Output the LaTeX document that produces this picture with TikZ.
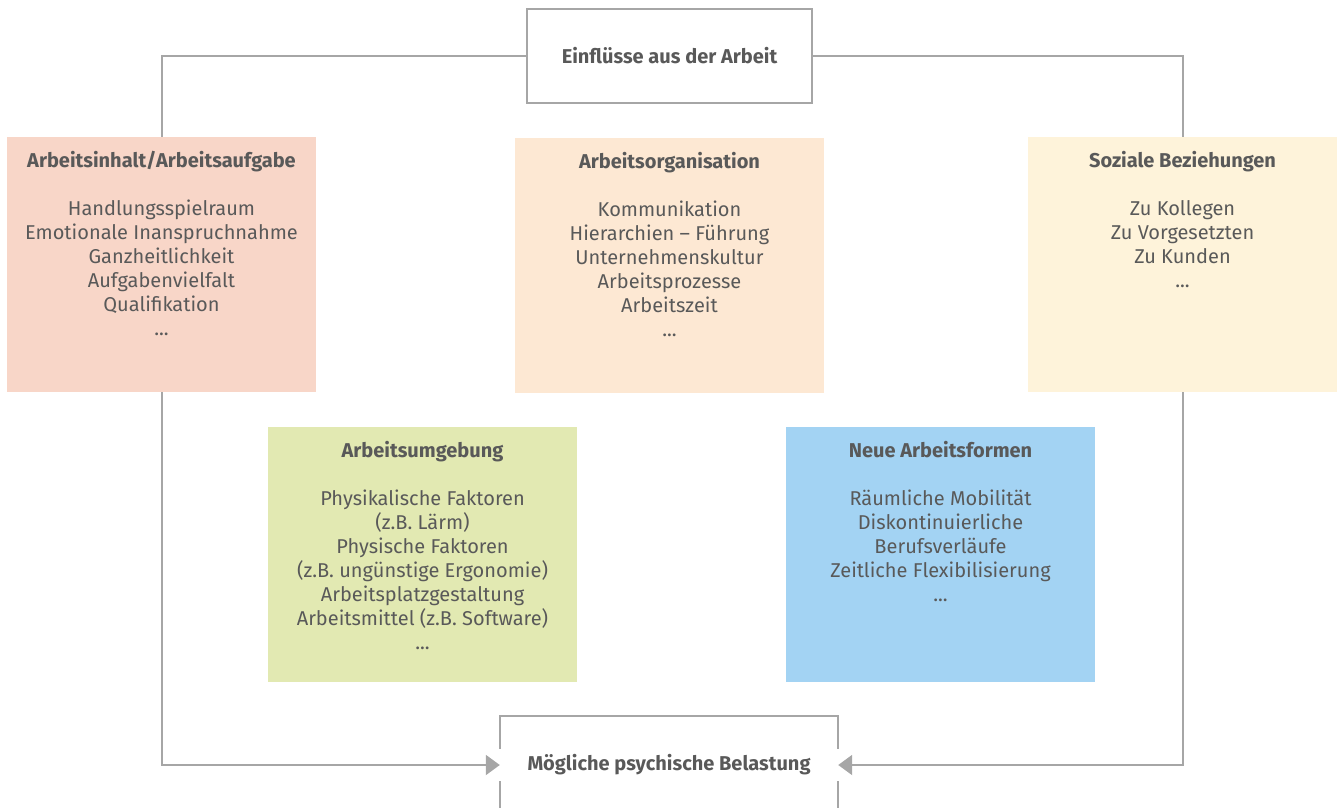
\documentclass[tikz,border=0pt]{standalone}
\usepackage{fontspec}
\setmainfont{Fira Sans}
\usetikzlibrary{arrows.meta,backgrounds}
\definecolor{txt}{HTML}{595959}
\definecolor{ln}{HTML}{A6A6A6}
\definecolor{cred}{HTML}{F8D6C8}
\definecolor{cora}{HTML}{FDE8D3}
\definecolor{cyel}{HTML}{FEF3DA}
\definecolor{cgre}{HTML}{E2E9B2}
\definecolor{cblu}{HTML}{A3D3F3}
\tikzset{
  catbox/.style={minimum width=309pt,minimum height=255pt,inner sep=0pt,draw=none},
  cattext/.style={anchor=north,align=center,inner sep=0pt,text=txt,font=\fontsize{20}{24}\selectfont},
  conn/.style={draw=ln,line width=2pt},
  tip/.style={-{Triangle[length=14pt,width=20pt]}},
  headtext/.style={text=txt,font=\fontsize{20}{24}\selectfont\bfseries}
}
\begin{document}
\begin{tikzpicture}[x=1pt,y=-1pt]
\useasboundingbox (0,0) rectangle (1338,808);
% boxes
\node[catbox,fill=cred] (a) at (161.5,264.5) {};
\node[catbox,fill=cora] (b) at (669.5,265.5) {};
\node[catbox,fill=cyel] (c) at (1182.5,264.5) {};
\node[catbox,fill=cgre] (d) at (422.5,554.5) {};
\node[catbox,fill=cblu] (e) at (940.5,554.5) {};
% top and bottom nodes
\node[conn,minimum width=285pt,minimum height=94pt,inner sep=0pt,fill=white,headtext] (top) at (669.5,56) {Einflüsse aus der Arbeit};
\node[minimum width=338pt,minimum height=32pt,inner sep=0pt,headtext] (bel) at (669,765) {Mögliche psychische Belastung};
% texts
\node[cattext] (at) at ([yshift=-14pt]a.north) {\textbf{Arbeitsinhalt/Arbeitsaufgabe}\\[24pt]Handlungsspielraum\\Emotionale Inanspruchnahme\\Ganzheitlichkeit\\Aufgabenvielfalt\\Qualifikation\\...};
\node[cattext] (bt) at ([yshift=-14pt]b.north) {\textbf{Arbeitsorganisation}\\[24pt]Kommunikation\\Hierarchien – Führung\\Unternehmenskultur\\Arbeitsprozesse\\Arbeitszeit\\...};
\node[cattext] (ct) at ([yshift=-14pt]c.north) {\textbf{Soziale Beziehungen}\\[24pt]Zu Kollegen\\Zu Vorgesetzten\\Zu Kunden\\...};
\node[cattext] (dt) at ([yshift=-14pt]d.north) {\textbf{Arbeitsumgebung}\\[24pt]Physikalische Faktoren\\(z.B. Lärm)\\Physische Faktoren\\(z.B. ungünstige Ergonomie)\\Arbeitsplatzgestaltung\\Arbeitsmittel (z.B. Software)\\...};
\node[cattext] (et) at ([yshift=-14pt]e.north) {\textbf{Neue Arbeitsformen}\\[24pt]Räumliche Mobilität\\Diskontinuierliche\\Berufsverläufe\\Zeitliche Flexibilisierung\\...};
% connectors behind
\begin{scope}[on background layer]
\draw[conn,tip] (top.west) -| (a.center) |- (bel.west);
\draw[conn,tip] (top.east) -| (c.center) |- (bel.east);
\end{scope}
% bottom box frame
\draw[conn] (bel.north west) -- ++(0,-33) -| (bel.north east);
\draw[conn] (bel.south west) -- ++(0,40);
\draw[conn] (bel.south east) -- ++(0,40);
\end{tikzpicture}
\end{document}
